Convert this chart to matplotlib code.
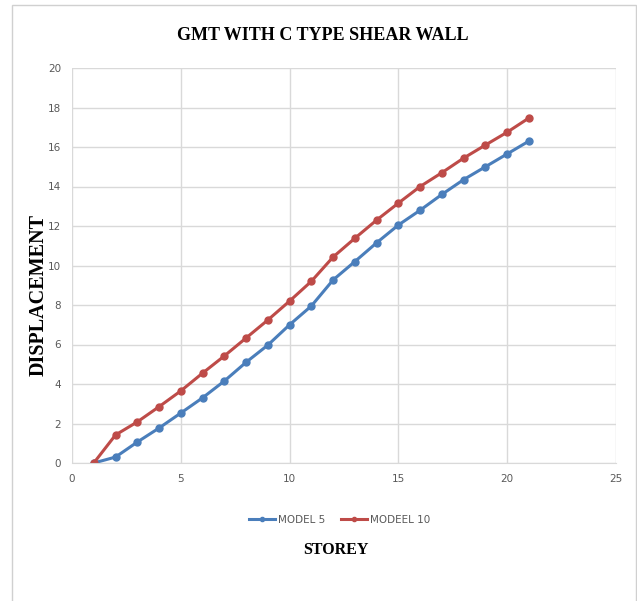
import matplotlib
matplotlib.use("Agg")
import matplotlib.pyplot as plt
from matplotlib.patches import Rectangle

# storey numbers and displacement values
storey = [1, 2, 3, 4, 5, 6, 7, 8, 9, 10, 11, 12, 13, 14, 15, 16, 17, 18, 19, 20, 21]
model_5 = [0, 0.3, 1.06, 1.77, 2.53, 3.3, 4.15, 5.1, 5.97, 7.0, 7.95,
           9.27, 10.2, 11.15, 12.05, 12.8, 13.6, 14.35, 15.0, 15.65, 16.3]
model_10 = [0, 1.42, 2.08, 2.85, 3.65, 4.55, 5.42, 6.33, 7.24, 8.2, 9.2,
            10.43, 11.38, 12.3, 13.16, 14.0, 14.7, 15.44, 16.1, 16.75, 17.47]

BLUE = "#4a7ebb"
RED = "#be4b48"

fig = plt.figure(figsize=(6.37, 6.01), dpi=100)
# outer chart box
fig.patches.append(Rectangle((12 / 637, -0.01), 1 - 13 / 637, 1 - 5 / 601 + 0.01,
                             transform=fig.transFigure, fill=False,
                             edgecolor="#d0d0d0", linewidth=1))

ax = fig.add_axes([72 / 637, 1 - 463 / 601, (616 - 72) / 637, (463 - 68) / 601])
ax.plot(storey, model_5, color=BLUE, lw=2.2, marker="o", ms=5, label="MODEL 5")
ax.plot(storey, model_10, color=RED, lw=2.2, marker="o", ms=5, label="MODEEL 10")

ax.set_xlim(0, 25)
ax.set_ylim(0, 20)
ax.set_xticks(range(0, 26, 5))
ax.set_yticks(range(0, 21, 2))
ax.grid(True, color="#d9d9d9", lw=1)
ax.set_axisbelow(True)
for s in ["top", "right", "left"]:
    ax.spines[s].set_visible(False)
ax.spines["bottom"].set_color("#d9d9d9")
ax.tick_params(length=0, labelsize=7.5, labelcolor="#595959", pad=8)

fig.text(323 / 637, 1 - 35 / 601, "GMT WITH C TYPE SHEAR WALL", ha="center", va="center",
         family="Liberation Serif", weight="bold", fontsize=13)
fig.text(39 / 637, 1 - 295 / 601, "DISPLACEMENT", ha="center", va="center", rotation=90,
         family="Liberation Serif", weight="bold", fontsize=14.5)
fig.text(336 / 637, 1 - 550 / 601, "STOREY", ha="center", va="center",
         family="Liberation Serif", weight="bold", fontsize=11.5)

fig.legend(loc="center", bbox_to_anchor=(340 / 637, 1 - 520 / 601), ncol=2, frameon=False,
           fontsize=7.5, labelcolor="#595959", handlelength=2.5, columnspacing=1.5,
           handletextpad=0.3, markerscale=0.6)

fig.savefig("out.png", dpi=100)
